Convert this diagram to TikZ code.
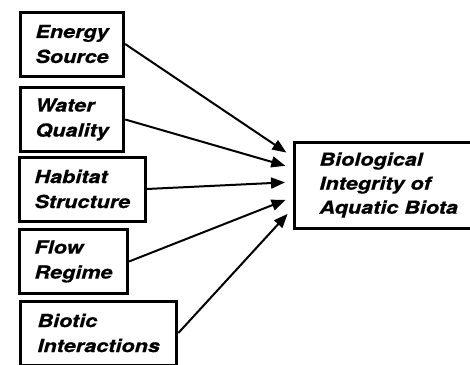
\documentclass[tikz,border=0pt]{standalone}
\usepackage{fontspec}
\setmainfont{TeX Gyre Heros}[FakeStretch=1.2, BoldItalicFeatures={FakeBold=0.6}]
\usetikzlibrary{arrows.meta}
\tikzset{
  factor/.style={draw, line width=3pt, align=left, anchor=west,
    inner xsep=15pt, minimum height=64pt,
    font=\fontsize{18}{25}\selectfont\bfseries\itshape},
  effect/.style={line width=2pt, -{Triangle[length=14pt,width=11pt]},
    shorten >=8pt}
}
\begin{document}
\begin{tikzpicture}[x=1pt,y=-1pt]
      \useasboundingbox (0,0) rectangle (470,364);
      \node[factor] (energy) at (19,44) {Energy\\Source};
      \node[factor] (water) at (19,119.5) {Water\\Quality};
      \node[factor] (habitat) at (18,189) {Habitat\\Structure};
      \node[factor] (flow) at (18,261.5) {Flow\\Regime};
      \node[factor, inner xsep=17pt] (biotic) at (19,333) {Biotic\\Interactions};
      \node[factor, minimum height=86pt, inner xsep=25pt, font=\fontsize{18}{24}\selectfont\bfseries\itshape]
        (integrity) at (293,185) {Biological\\Integrity of\\Aquatic Biota};
      \begin{scope}[effect]
        \draw (energy.east) to ([yshift=28pt]integrity.west);
        \draw (water.east) to ([yshift=17pt]integrity.west);
        \draw (habitat.east) to ([yshift=3pt]integrity.west);
        \draw (flow.east) to ([yshift=-12pt]integrity.west);
        \draw (biotic.east) to ([yshift=-23pt]integrity.west);
      \end{scope}
    \end{tikzpicture}
\end{document}
